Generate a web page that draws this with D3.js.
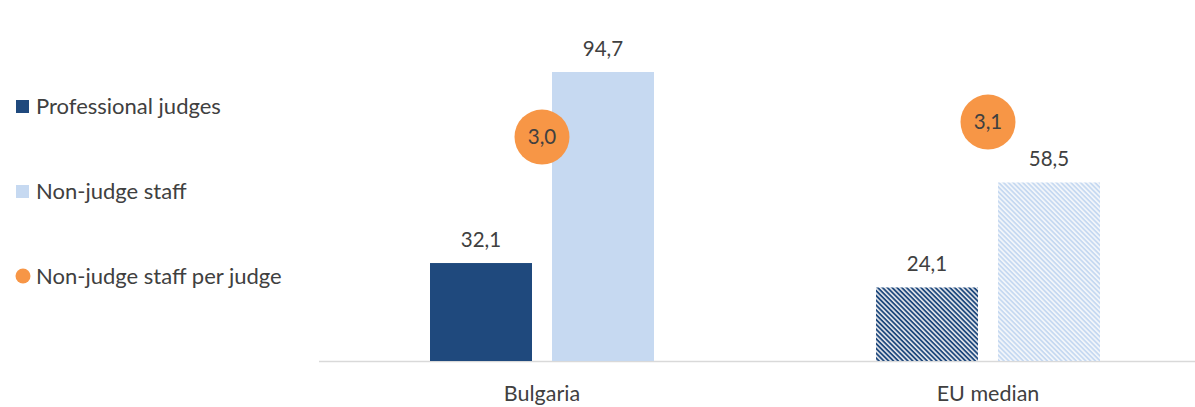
<!DOCTYPE html>
<html>
<head>
<meta charset="utf-8">
<script src="https://cdn.jsdelivr.net/npm/d3@7"></script>
<style>
  html, body { margin: 0; padding: 0; background: #fff; }
  svg { display: block; font-family: Lato, "Open Sans", sans-serif; }
</style>
</head>
<body>
<svg id="chart" width="1195" height="407"></svg>
<script>
// Staff per 100 000 inhabitants, with ratio on a hidden secondary axis
const categories = ['Bulgaria', 'EU median'];
const seriesNames = ['Professional judges', 'Non-judge staff'];
const judges = [32.1, 24.1];
const staff = [94.7, 58.5];
const ratio = [3.0, 3.1];
const ratioName = 'Non-judge staff per judge';

const W = 1195, H = 407;
const baseY = 361;
const navy = '#1f497d', light = '#c6d9f1', orange = '#f79646', ink = '#404040';
const fmt = v => d3.format('.1f')(v).replace('.', ',');

const svg = d3.select('#chart');

// hatch patterns for the EU median bars (wide downward diagonal)
const defs = svg.append('defs');
function hatch(id, color, bg) {
  const p = defs.append('pattern').attr('id', id)
    .attr('patternUnits', 'userSpaceOnUse').attr('width', 3.4).attr('height', 3.4)
    .attr('patternTransform', 'rotate(45)');
  p.append('rect').attr('width', 3.4).attr('height', 3.4).attr('fill', bg);
  p.append('rect').attr('width', 3.4).attr('height', 1.8).attr('fill', color);
}
hatch('hatchNavy', navy, '#e4e7ec');
hatch('hatchLight', light, '#f4f7fb');

const x0 = d3.scaleBand().domain(categories).range([319, 1211]);
const x1 = d3.scaleBand().domain(seriesNames).range([-112, 112]).paddingInner(2 - 224 / 122);
const y = d3.scaleLinear().domain([0, 94.7]).range([baseY, 72]);
const y2 = d3.scaleLinear().domain([1.5, 3.5]).range([baseY, baseY - 2 * 149.3]);

// axis line
svg.append('line').attr('x1', 319).attr('x2', W).attr('y1', baseY + 0.5).attr('y2', baseY + 0.5)
  .attr('stroke', '#d9d9d9').attr('stroke-width', 1.5);

const rows = categories.map((c, i) => ({ cat: c, i, vals: [judges[i], staff[i]] }));

const g = svg.append('g');
rows.forEach(r => {
  const cx = x0(r.cat) + x0.bandwidth() / 2;
  r.vals.forEach((v, k) => {
    const name = seriesNames[k];
    const fill = r.i === 0 ? (k === 0 ? navy : light) : (k === 0 ? 'url(#hatchNavy)' : 'url(#hatchLight)');
    g.append('rect')
      .attr('x', cx + x1(name)).attr('width', x1.bandwidth())
      .attr('y', y(v)).attr('height', baseY - y(v))
      .attr('fill', fill);
    g.append('text')
      .attr('x', cx + x1(name) + x1.bandwidth() / 2).attr('y', y(v) - 16)
      .attr('text-anchor', 'middle').attr('font-size', 20.5).attr('fill', ink)
      .text(fmt(v));
  });
  // ratio marker
  g.append('circle').attr('cx', cx).attr('cy', y2(ratio[r.i])).attr('r', 27.5).attr('fill', orange);
  g.append('text').attr('x', cx).attr('y', y2(ratio[r.i])).attr('dy', '0.35em')
    .attr('text-anchor', 'middle').attr('font-size', 20.5).attr('fill', ink)
    .text(fmt(ratio[r.i]));
  // category label
  svg.append('text').attr('x', cx).attr('y', 401)
    .attr('text-anchor', 'middle').attr('font-size', 21.5).attr('fill', ink)
    .text(r.cat);
});

// legend
const legend = [
  { name: seriesNames[0], color: navy, shape: 'rect', y: 106 },
  { name: seriesNames[1], color: light, shape: 'rect', y: 191 },
  { name: ratioName, color: orange, shape: 'circle', y: 276 }
];
const lg = svg.append('g');
legend.forEach(d => {
  if (d.shape === 'rect') {
    lg.append('rect').attr('x', 16).attr('y', d.y - 6).attr('width', 13).attr('height', 13).attr('fill', d.color);
  } else {
    lg.append('circle').attr('cx', 23).attr('cy', d.y).attr('r', 7.5).attr('fill', d.color);
  }
  lg.append('text').attr('x', 36).attr('y', d.y).attr('dy', '0.35em')
    .attr('font-size', 22).attr('fill', ink).text(d.name);
});
</script>
</body>
</html>
